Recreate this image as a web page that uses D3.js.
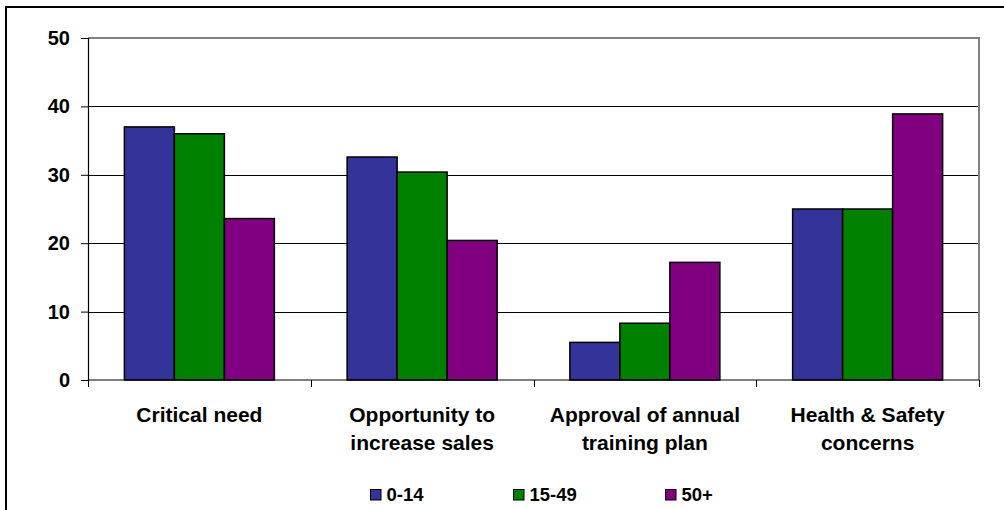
<!DOCTYPE html>
<html>
<head>
<meta charset="utf-8">
<script src="https://cdn.jsdelivr.net/npm/d3@7/dist/d3.min.js"></script>
<style>
  html, body { margin: 0; padding: 0; background: #fff; }
  svg { display: block; font-family: "Liberation Sans", Arial, sans-serif; font-weight: bold; }
</style>
</head>
<body>
<svg id="chart" width="1004" height="510"></svg>
<script>
// Reasons for training, by company size (number of employees)
const categories = [
  ["Critical need"],
  ["Opportunity to", "increase sales"],
  ["Approval of annual", "training plan"],
  ["Health & Safety", "concerns"]
];
const seriesNames = ["0-14", "15-49", "50+"];
const values014 = [37, 32.6, 5.5, 25];
const values1549 = [36, 30.4, 8.3, 25];
const values50 = [23.6, 20.4, 17.2, 38.9];
const yTicks = [0, 10, 20, 30, 40, 50];
const colors = ["#333399", "#008000", "#800080"];

const seriesValues = [values014, values1549, values50];

const svg = d3.select("#chart");
const plot = { left: 88, right: 979, top: 38, bottom: 380 };

// Outer chart frame (runs off the right and bottom edges)
svg.append("rect")
  .attr("x", 6).attr("y", 7)
  .attr("width", 1010).attr("height", 520)
  .attr("fill", "none").attr("stroke", "#000").attr("stroke-width", 2);

const x = d3.scaleBand()
  .domain(d3.range(categories.length))
  .range([plot.left, plot.right])
  .paddingInner(0).paddingOuter(0);

const groupWidth = 150;
const xInner = d3.scaleBand()
  .domain(d3.range(seriesNames.length))
  .range([0, groupWidth]);

const y = d3.scaleLinear().domain([0, 50]).range([plot.bottom, plot.top]);

// Horizontal gridlines
svg.append("g")
  .selectAll("line")
  .data(yTicks.filter(t => t > 0 && t < 50))
  .join("line")
  .attr("x1", plot.left).attr("x2", plot.right)
  .attr("y1", d => Math.round(y(d)) + 0.5).attr("y2", d => Math.round(y(d)) + 0.5)
  .attr("stroke", "#000").attr("stroke-width", 1);

// Plot area border (top and right)
svg.append("path")
  .attr("d", `M${plot.left},${plot.top} H${plot.right} V${plot.bottom}`)
  .attr("fill", "none").attr("stroke", "#808080").attr("stroke-width", 2);

// Bars
const groups = svg.append("g").selectAll("g")
  .data(categories.map((c, i) => i))
  .join("g")
  .attr("transform", i => `translate(${x(i) + (x.bandwidth() - groupWidth) / 2},0)`);

groups.selectAll("rect")
  .data(i => seriesValues.map((vals, s) => ({ s, v: vals[i] })))
  .join("rect")
  .attr("x", d => xInner(d.s))
  .attr("y", d => y(d.v))
  .attr("width", xInner.bandwidth())
  .attr("height", d => y(0) - y(d.v))
  .attr("fill", d => colors[d.s])
  .attr("stroke", "#000").attr("stroke-width", 1.5);

// Y axis
const yAxis = d3.axisLeft(y).tickValues(yTicks).tickSize(7).tickPadding(11).tickFormat(d3.format("d"));
const gy = svg.append("g")
  .attr("transform", `translate(${plot.left},0)`)
  .call(yAxis);
gy.select(".domain").attr("stroke", "#000").attr("stroke-width", 1.2);
gy.selectAll(".tick line").attr("stroke", "#000");
gy.selectAll(".tick text")
  .attr("font-size", 20).attr("font-weight", "bold")
  .attr("font-family", "'Liberation Sans', Arial, sans-serif")
  .attr("fill", "#000");

// X axis with ticks at category boundaries
const boundaries = d3.range(categories.length + 1).map(i => plot.left + i * x.bandwidth());
svg.append("line")
  .attr("x1", plot.left).attr("x2", plot.right)
  .attr("y1", plot.bottom).attr("y2", plot.bottom)
  .attr("stroke", "#000").attr("stroke-width", 1.2);
svg.append("g").selectAll("line")
  .data(boundaries)
  .join("line")
  .attr("x1", d => Math.round(d) + 0.5).attr("x2", d => Math.round(d) + 0.5)
  .attr("y1", plot.bottom).attr("y2", plot.bottom + 7)
  .attr("stroke", "#000").attr("stroke-width", 1);

// Category labels
const labels = svg.append("g").selectAll("text")
  .data(categories)
  .join("text")
  .attr("text-anchor", "middle")
  .attr("font-size", 21)
  .attr("fill", "#000")
  .attr("transform", (d, i) => `translate(${x(i) + x.bandwidth() / 2},422)`);
labels.selectAll("tspan")
  .data(d => d)
  .join("tspan")
  .attr("x", 0)
  .attr("y", (d, j) => j * 28)
  .text(d => d);

// Legend
const legendX = [370, 513, 665];
const legend = svg.append("g").selectAll("g")
  .data(seriesNames)
  .join("g")
  .attr("transform", (d, i) => `translate(${legendX[i]},489)`);
legend.append("rect")
  .attr("x", 0.5).attr("y", 0.5)
  .attr("width", 10.5).attr("height", 10.5)
  .attr("fill", (d, i) => colors[i])
  .attr("stroke", "#000").attr("stroke-width", 1);
legend.append("text")
  .attr("x", 16.5).attr("y", 11.7)
  .attr("font-size", 18.5)
  .attr("fill", "#000")
  .text(d => d);
</script>
</body>
</html>
